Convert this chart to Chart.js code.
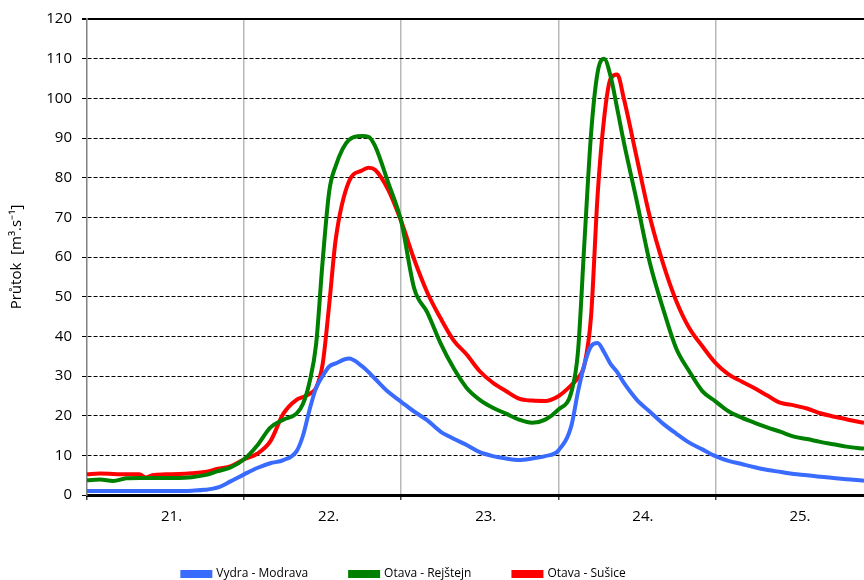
<!DOCTYPE html>
<html>
<head>
<meta charset="utf-8">
<script src="https://cdn.jsdelivr.net/npm/chart.js@4.4.0/dist/chart.umd.min.js"></script>
<style>
html,body{margin:0;padding:0;background:#fff;}
#wrap{width:864px;height:580px;position:relative;}
</style>
</head>
<body>
<div id="wrap"><canvas id="c" width="864" height="580"></canvas></div>
<script>
// time in hours from the start of day 21
const hours = [
  0,2,4,6,8,9,10,12,14,16,
  18,20,22,24,26,28,30,32,33,34,
  35,36,37,38,40,42,43,44,46,48,
  50,52,54,56,58,60,62,64,66,68,
  70,72,74,75,76,77,78,79,80,81,
  82,84,86,88,90,92,94,96,98,100,
  102,104,106,108,110,112,114,116,118,118.7
];
const vydraModrava = [
  1.0,1.0,1.0,1.0,1.0,1.0,1.0,1.0,1.0,1.1,
  1.3,1.9,3.5,5.2,6.8,8.0,8.8,11.0,15.0,21.5,
  27.0,30.0,32.4,33.2,34.4,32.5,31.0,29.3,26.0,23.5,
  21.0,18.8,16.0,14.2,12.6,10.8,9.8,9.2,8.8,9.2,
  9.8,11.2,17.5,26.0,33.0,37.5,38.3,36.0,33.0,31.0,
  28.3,24.0,21.0,18.0,15.5,13.2,11.5,9.8,8.6,7.8,
  7.0,6.3,5.8,5.3,5.0,4.6,4.3,4.0,3.7,3.6
];
const otavaRejstejn = [
  3.7,3.9,3.5,4.2,4.3,4.3,4.3,4.3,4.3,4.5,
  5.0,6.0,7.0,9.0,12.5,17.0,19.0,20.5,23.0,28.5,
  38.0,59.0,76.5,83.0,89.5,90.5,90.3,88.0,78.8,69.0,
  52.0,46.0,38.3,32.0,27.0,24.0,22.0,20.5,19.0,18.2,
  19.0,21.5,26.0,36.0,64.0,91.0,106.5,110.0,105.5,97.4,
  89.0,74.0,58.4,47.0,37.0,31.2,26.2,23.6,21.1,19.5,
  18.2,17.0,15.9,14.7,14.1,13.4,12.8,12.2,11.8,11.7
];
const otavaSusice = [
  5.2,5.4,5.3,5.2,5.2,4.4,5.0,5.2,5.3,5.5,
  5.8,6.6,7.3,9.0,10.4,13.5,20.5,24.0,24.7,25.5,
  27.0,33.0,48.0,64.5,79.0,81.8,82.5,82.0,77.0,69.0,
  59.3,51.0,44.6,39.0,35.4,31.2,28.3,26.2,24.3,23.8,
  23.7,24.9,27.7,29.5,32.9,45.0,75.5,95.0,105.0,106.0,
  100.0,84.9,70.0,58.4,49.0,42.1,37.5,33.3,30.4,28.6,
  26.9,25.0,23.2,22.6,21.8,20.6,19.8,19.1,18.4,18.2
];
const dayLabels = ['21.','22.','23.','24.','25.'];
const seriesNames = ['Vydra - Modrava','Otava - Rejštejn','Otava - Sušice'];
const seriesColors = ['#3A6BFF','#008000','#FF0000'];
const yTicks = [0,10,20,30,40,50,60,70,80,90,100,110,120];
const yTitle = 'Průtok  [m³.s⁻¹]';

const toPts = arr => arr.map((v,i)=>({x:hours[i], y:v}));
const allSeries = [vydraModrava, otavaRejstejn, otavaSusice];

const bgPlugin = {
  id:'bg',
  beforeDraw(chart){
    const c = chart.ctx;
    c.save(); c.fillStyle='#fff'; c.fillRect(0,0,chart.width,chart.height); c.restore();
  }
};
// shift the legend block a little to the left, as in the original
const legendShift = {
  id:'legendShift',
  afterLayout(chart){
    const lg = chart.legend;
    if (lg) { lg.left -= 28; lg.right -= 28; }
  }
};

new Chart(document.getElementById('c'), {
  type:'line',
  data:{
    datasets: allSeries.map((s,i)=>({
      label: seriesNames[i],
      data: toPts(s),
      borderColor: seriesColors[i],
      backgroundColor: seriesColors[i],
      borderWidth: 4,
      pointRadius: 0,
      cubicInterpolationMode: 'monotone',
      fill:false
    }))
  },
  options:{
    responsive:false,
    animation:false,
    layout:{padding:{left:0,right:0,top:12,bottom:-10}},
    plugins:{
      legend:{
        position:'bottom',
        labels:{
          boxWidth:28, boxHeight:4, padding:42,
          color:'#000',
          font:{family:'Open Sans', size:12}
        }
      },
      tooltip:{enabled:false}
    },
    scales:{
      x:{
        type:'linear', min:0, max:118.7,
        afterBuildTicks: axis => { axis.ticks = [0,12,24,36,48,60,72,84,96,108].map(v=>({value:v})); },
        afterFit: s => { s.height = 31; },
        ticks:{
          autoSkip:false, maxRotation:0, padding:8, labelOffset:6,
          color:'#000', font:{family:'Open Sans', size:15},
          callback: v => (v % 24 === 12) ? dayLabels[(v-12)/24] : ''
        },
        grid:{
          color: ctx => (ctx.tick && ctx.tick.value % 24 === 0 && ctx.tick.value > 0) ? '#b8b8b8' : 'rgba(0,0,0,0)',
          tickColor: ctx => (ctx.tick && ctx.tick.value % 24 === 0) ? '#444' : 'rgba(0,0,0,0)',
          tickLength:5, lineWidth:1.5
        },
        border:{display:true, color:'#000', width:3}
      },
      y:{
        min:0, max:120,
        afterBuildTicks: axis => { axis.ticks = yTicks.map(v=>({value:v})); },
        afterFit: s => { s.width = 87; },
        ticks:{ padding:10, color:'#000', font:{family:'Open Sans', size:15} },
        title:{ display:true, text:yTitle, color:'#000', font:{family:'Open Sans', size:15}, padding:{top:8,bottom:0} },
        grid:{
          color: ctx => (ctx.tick && ctx.tick.value === 0) ? 'rgba(0,0,0,0)' : '#000',
          lineWidth: ctx => (ctx.tick && ctx.tick.value === 120) ? 2 : 1,
          tickColor:'#000', tickLength:5
        },
        border:{
          display:true, color:'#808080', width:1.5,
          dash: ctx => (ctx.tick && ctx.tick.value !== 120) ? [4,2] : []
        }
      }
    }
  },
  plugins:[bgPlugin, legendShift]
});
</script>
</body>
</html>
